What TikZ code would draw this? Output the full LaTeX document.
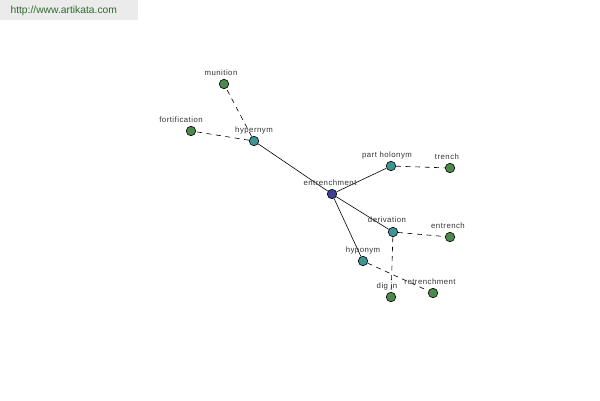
\documentclass[tikz,border=0pt]{standalone}
\usepackage{fontspec}
\setmainfont{Liberation Sans}
\newfontfamily\lblfont[LetterSpace=6]{Liberation Sans}
\definecolor{hubblue}{HTML}{3F3F96}
\definecolor{relteal}{HTML}{3F9494}
\definecolor{wordgreen}{HTML}{4C894C}
\definecolor{urlgreen}{HTML}{2E6B2E}
\tikzset{
	dot/.style = {circle, draw = black, line width = 0.6pt, inner sep = 0pt, minimum size = 9.5pt},
	hub/.style = {dot, fill = hubblue},
	rel/.style = {dot, fill = relteal},
	word/.style = {dot, fill = wordgreen},
	lbl/.style = {font = \lblfont\fontsize{7.8}{8}\selectfont, text = black!80, inner sep = 0pt},
	edge/.style = {line width = 0.6pt},
	link/.style = {line width = 0.6pt, dash pattern = on 5pt off 4.5pt}
}
\begin{document}
\begin{tikzpicture} [x = 1pt, y = -1pt]
	\useasboundingbox (0,0) rectangle (600,400);
	\fill [black!8] (0,0) rectangle (138,20);
	\node (url) [anchor = west, font = \fontsize{10.3}{12}\selectfont, text = urlgreen] at (7,10.5) {http://www.artikata.com};
	% nodes
	\node (entrenchment) [hub] at (332,194) {};
	\node (hypernym) [rel] at (254,141) {};
	\node (munition) [word] at (224,84) {};
	\node (fortification) [word] at (191,131) {};
	\node (partholonym) [rel] at (391,166) {};
	\node (trench) [word] at (450,168) {};
	\node (derivation) [rel] at (393,232) {};
	\node (entrench) [word] at (450,237) {};
	\node (hyponym) [rel] at (363,261) {};
	\node (digin) [word] at (391,297) {};
	\node (retrenchment) [word] at (433,293) {};
	% edges
	\draw [edge] (entrenchment) -- (hypernym);
	\draw [edge] (entrenchment) -- (partholonym);
	\draw [edge] (entrenchment) -- (derivation);
	\draw [edge] (entrenchment) -- (hyponym);
	\draw [link] (hypernym) -- (munition);
	\draw [link] (hypernym) -- (fortification);
	\draw [link] (partholonym) -- (trench);
	\draw [link] (derivation) -- (entrench);
	\draw [link] (derivation) -- (digin);
	\draw [link] (hyponym) -- (retrenchment);
	% labels
	\node [lbl] at (221,73) {munition};
	\node [lbl] at (181,120) {fortification};
	\node [lbl] at (254,130) {hypernym};
	\node [lbl] at (387,155) {part holonym};
	\node [lbl] at (447,157) {trench};
	\node [lbl] at (330,183) {entrenchment};
	\node [lbl] at (387,220) {derivation};
	\node [lbl] at (448,226) {entrench};
	\node [lbl] at (363,250) {hyponym};
	\node [lbl] at (387,286) {dig in};
	\node [lbl] at (430,282) {retrenchment};
\end{tikzpicture}
\end{document}
